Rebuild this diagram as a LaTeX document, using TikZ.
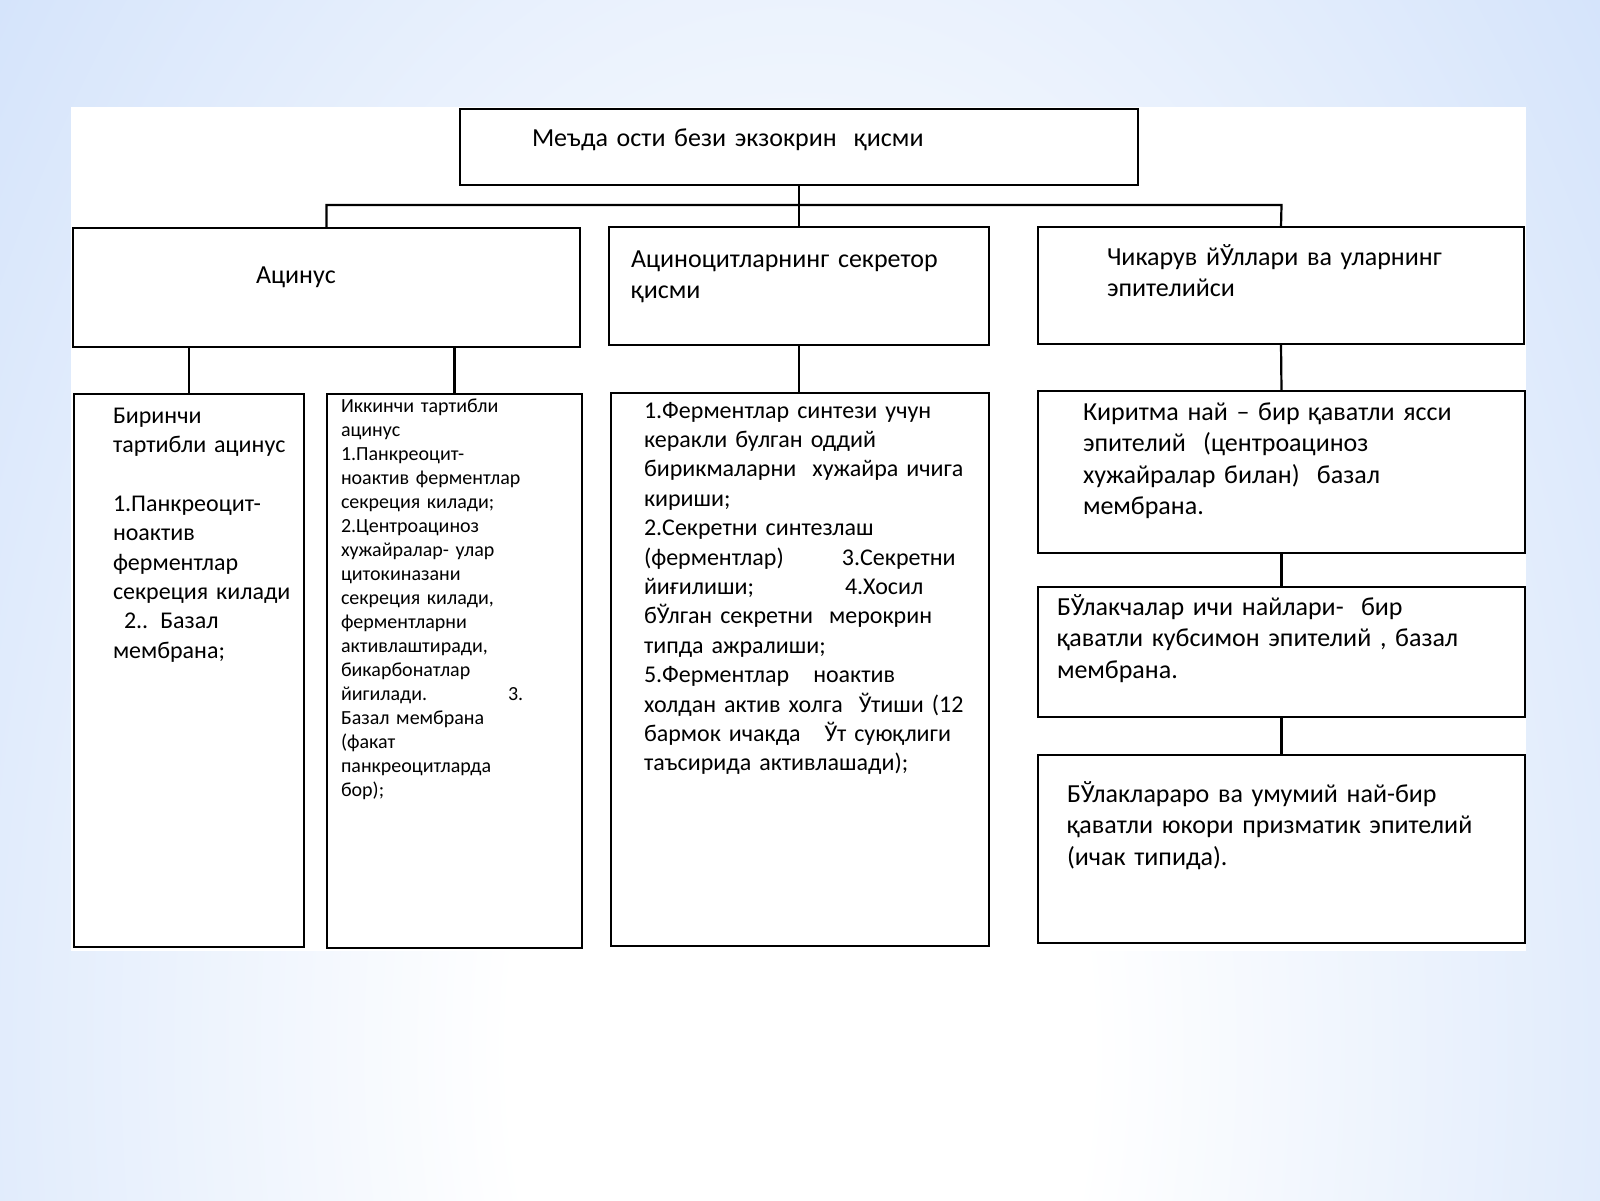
\documentclass[tikz,border=0pt]{standalone}
\usepackage{fontspec}
\setmainfont{Carlito}
\definecolor{bgblue}{RGB}{168,199,246}
\pgfdeclareradialshading{bgshade}{\pgfpointorigin}{color(0bp)=(white); color(8bp)=(white); color(50bp)=(bgblue)}
\begin{document}
\begin{tikzpicture}[x=0.5pt, y=-0.5pt,
  box/.style={draw=black, line width=1.4pt, fill=white, inner sep=0pt, outer sep=0pt, rectangle},
  conn/.style={draw=black, line width=1.1pt},
  txt/.style={inner sep=0pt, outer sep=0pt, anchor=base west, align=left, text width=260pt},
  fbig/.style={font=\fontsize{13}{15.8}\selectfont},
  fmid/.style={font=\fontsize{12}{14.7}\selectfont},
  fsmall/.style={font=\fontsize{10}{12}\selectfont}]
\useasboundingbox (0,0) rectangle (1600,1200);
\begin{scope}
  \clip (0,0) rectangle (1600,1200);
  \shade[shading=bgshade] (-100,-450) rectangle (1700,2550);
\end{scope}
\fill[white] (71,107) rectangle (1526,951);

% boxes
\node[box, minimum width=339pt, minimum height=38pt] (top) at (799,147) {};
\node[box, minimum width=253.5pt, minimum height=59.5pt] (acin) at (326.5,287.5) {};
\node[box, minimum width=190pt, minimum height=59pt] (mid) at (799,286) {};
\node[box, minimum width=243pt, minimum height=58.5pt] (duct) at (1281,285.5) {};
\node[box, minimum width=115pt, minimum height=276.5pt] (b1) at (189,670.5) {};
\node[box, minimum width=127.5pt, minimum height=277pt] (b2) at (454.5,671) {};
\node[box, minimum width=189pt, minimum height=276.5pt] (b3) at (800,669.5) {};
\node[box, minimum width=243.5pt, minimum height=81pt] (r1) at (1281.5,472) {};
\node[box, minimum width=243.5pt, minimum height=65pt] (r2) at (1281.5,652) {};
\node[box, minimum width=243.5pt, minimum height=94pt] (r3) at (1281.5,849) {};

% connectors
\coordinate (barR) at (1281.5,205);
\draw[conn] (top.south) -- (mid.north);
\draw[conn] (acin.north) -- (acin.north |- barR) -- (barR) -- (duct.north);
\draw[conn] (b1.north) -- (b1.north |- acin.south);
\draw[conn] (b2.north) -- (b2.north |- acin.south);
\draw[conn] (mid.south) -- (mid.south |- b3.north);
\draw[conn] (duct.south) -- (r1.north);
\draw[conn] (r1.south) -- (r2.north);
\draw[conn] (r2.south) -- (r3.north);

% texts
\node[txt, fbig] (ttop) at (532,146) {Меъда ости бези экзокрин\ \ қисми};
\node[txt, fbig] (tacin) at (256,283) {Ацинус};
\node[txt, fbig] (tmid) at (631,267) {Ациноцитларнинг секретор\\қисми};
\node[txt, fbig] (tduct) at (1107,265) {Чикарув йЎллари ва уларнинг\\эпителийси};
\node[txt, fmid] (tb1) at (113,423) {Биринчи\\тартибли ацинус\\[14.7pt]1.Панкреоцит-\\ноактив\\ферментлар\\секреция килади\\\hspace*{5.5pt}2.. Базал\\мембрана;};
\node[txt, fsmall] (tb2) at (341,412) {Иккинчи тартибли\\ацинус\\1.Панкреоцит-\\ноактив ферментлар\\секреция килади;\\2.Центроациноз\\хужайралар- улар\\цитокиназани\\секреция килади,\\ферментларни\\активлаштиради,\\бикарбонатлар\\\makebox[83.5pt][l]{йигилади.}3.\\Базал мембрана\\(факат\\панкреоцитларда\\бор);};
\node[txt, fmid] (tb3) at (644,418) {1.Ферментлар синтези учун\\керакли булган оддий\\бирикмаларни\ \ хужайра ичига\\кириши;\\2.Секретни синтезлаш\\\makebox[99pt][l]{(ферментлар)}3.Секретни\\\makebox[100.5pt][l]{йиғилиши;}4.Хосил\\бЎлган секретни\ \ мерокрин\\типда ажралиши;\\5.Ферментлар\ \ \ ноактив\\холдан актив холга\ \ Ўтиши (12\\бармок ичакда\ \ \ Ўт суюқлиги\\таъсирида активлашади);};
\node[txt, fbig] (tr1) at (1083,420) {Киритма най – бир қаватли ясси\\эпителий\ \ (центроациноз\\хужайралар билан)\ \ базал\\мембрана.};
\node[txt, fbig] (tr2) at (1057,615) {БЎлакчалар ичи найлари-\ \ бир\\қаватли кубсимон эпителий , базал\\мембрана.};
\node[txt, fbig] (tr3) at (1067,802) {БЎлаклараро ва умумий най-бир\\қаватли юкори призматик эпителий\\(ичак типида).};
\end{tikzpicture}
\end{document}
